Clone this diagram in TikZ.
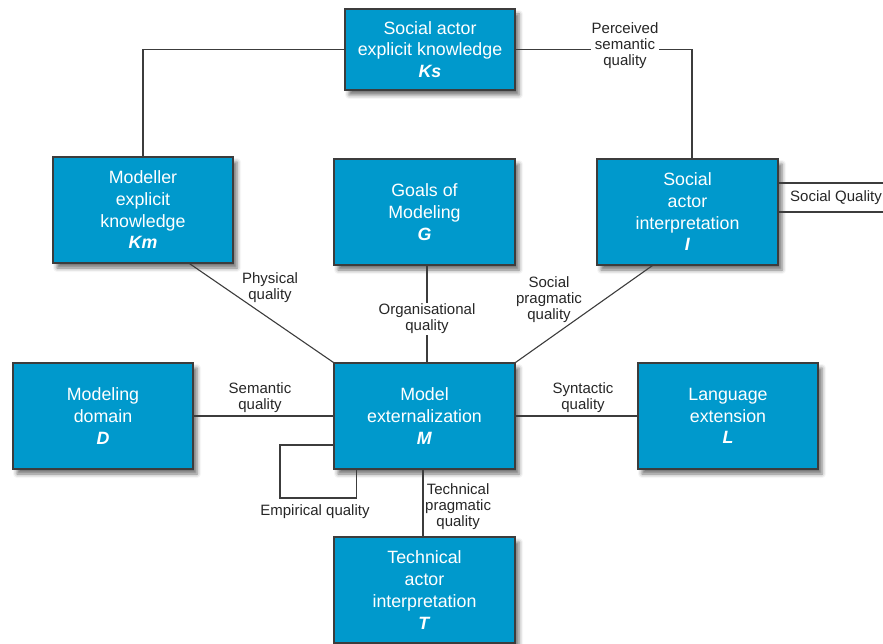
\documentclass[tikz,border=0pt]{standalone}
\usepackage{fontspec}
\setmainfont{Liberation Sans}
\usetikzlibrary{shadows.blur,calc}
\definecolor{boxblue}{RGB}{0,153,204}
\definecolor{edgegray}{RGB}{60,60,60}
\newcommand{\sym}[1]{\textbf{\textit{#1}}}
\tikzset{
  box/.style={draw=edgegray, line width=1.1pt, fill=boxblue, text=white,
    align=center, inner sep=0pt, minimum width=180pt, minimum height=106pt,
    font=\fontsize{17.8}{21.7}\selectfont,
    blur shadow={shadow xshift=4pt, shadow yshift=-5pt, shadow blur radius=4pt, shadow opacity=55}},
  link/.style={draw=edgegray, line width=1.1pt},
  qual/.style={align=center, inner sep=1pt, font=\fontsize{15}{16}\selectfont, text=black!85},
  qualbg/.style={qual, fill=white}
}
\begin{document}
\begin{tikzpicture}[x=1pt,y=-1pt]
\useasboundingbox (0,0) rectangle (883,644);

% actors and artefacts
\node[box, minimum width=170pt, minimum height=81pt] (Ks) at (430,49.5)
  {Social actor\\explicit knowledge\\\sym{Ks}};
\node[box] (Km) at (143,210) {Modeller\\explicit\\knowledge\\\sym{Km}};
\node[box, minimum width=181pt] (G) at (424.5,212) {Goals of\\Modeling\\\sym{G}};
\node[box, minimum width=181pt] (I) at (687.5,212) {Social\\actor\\interpretation\\\sym{I}};
\node[box] (D) at (103,416) {Modeling\\domain\\\sym{D}};
\node[box, minimum width=181pt] (M) at (424.5,416) {Model\\externalization\\\sym{M}};
\node[box] (L) at (728,416) {Language\\extension\\\sym{L}};
\node[box, minimum width=181pt] (T) at (424.5,590) {Technical\\actor\\interpretation\\\sym{T}};

% quality relations
\draw[link] (Km.north) |- (Ks.west);
\draw[link] (Ks.east) -| ([xshift=4.5pt]I.north);
\node[qualbg] (pq) at (625,46) {Perceived\\semantic\\quality};

\draw[link] ([xshift=137pt]Km.south west) -- (M.north west);
\node[qual] (phq) at (270,288) {Physical\\quality};

\draw[link] ([xshift=2.5pt]G.south) -- ([xshift=2.5pt]M.north);
\node[qualbg] (oq) at (427,319) {Organisational\\quality};

\draw[link] ([xshift=56pt]I.south west) -- (M.north east);
\node[qual] (spq) at (549,300) {Social\\pragmatic\\quality};

\draw[link] (D.east) -- (M.west);
\node[qual] (seq) at (260,398) {Semantic\\quality};

\draw[link] (M.east) -- (L.west);
\node[qual] (syq) at (583,398) {Syntactic\\quality};

\draw[link] ([xshift=-1.5pt]M.south) -- ([xshift=-1.5pt]T.north);
\node[qual, anchor=west] (tpq) at (424,507) {Technical\\pragmatic\\quality};

\draw[link] ([yshift=-29pt]M.west) -| (280,498) -| ([xshift=23pt]M.south west);
\node[qual] (emq) at (315,512) {Empirical quality};

\draw[link] ([yshift=29pt]I.east) -- ++(120,0);
\draw[link] (I.east) -- ++(120,0);
\node[qual, anchor=west] (soq) at (789,198) {Social Quality};
\end{tikzpicture}
\end{document}
